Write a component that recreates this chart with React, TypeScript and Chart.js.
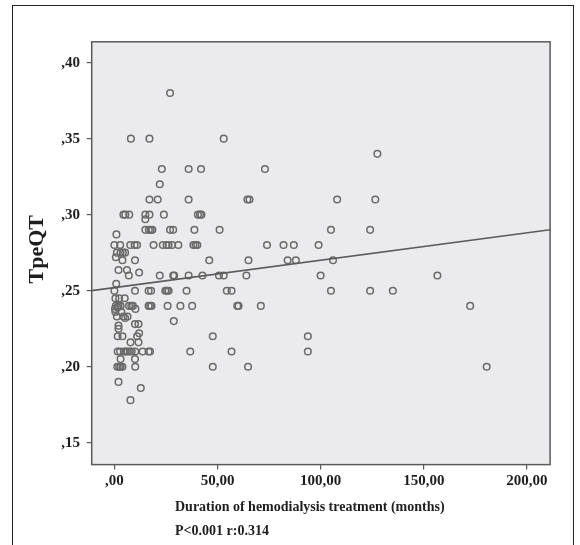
import React, { useEffect, useRef } from "react";
import { Chart, registerables } from "chart.js";

Chart.register(...registerables);

// Duration of hemodialysis treatment (months) and TpeQT
const MONTHS = [
  27,
  8, 17, 53,
  127.5,
  23, 36, 42, 73,
  22,
  17, 21, 36, 64.5, 65.5, 108, 126.5,
  4.4, 5.3, 7.2, 15, 17, 24, 40.5, 41.5, 42.2,
  15,
  15, 16.7, 17.6, 18.4, 27, 28.5, 38.8, 51, 105, 124,
  1,
  0, 2.8, 7.7, 9.8, 11, 19, 23.5, 25.3, 26.3, 28, 31, 38.3, 39.3, 40.2, 74, 82, 87, 99,
  1.2, 3.0, 4.1, 5.2,
  0.7,
  3.9, 10, 46, 65, 84, 88, 106,
  2, 6.1,
  12,
  7, 22, 28.5, 29, 36, 42.7, 50.7, 53, 64, 100, 156.6,
  0.9,
  0, 10, 16.6, 17.8, 24.7, 25.5, 26.3, 35, 54.5, 56.8, 105, 124, 135,
  0.5, 2.3, 5,
  0.7, 2, 3, 7.1, 8.2, 9, 16.6, 17.3, 18, 25.8, 32, 37.7, 59.6, 60.2, 71, 172.5,
  10.2, 0.3, 1.5,
  0.5, 3.4,
  1.2, 4.3, 6.4, 5.2,
  28.8,
  10, 11.7,
  2,
  2,
  12,
  1.6, 3.9, 11, 47.7, 93.8,
  7.8, 11.7,
  1.6, 2.8, 4.6, 5.5, 6.4, 7.5, 8.4, 10.1, 13.7, 16.6, 17.3, 36.8, 56.8, 93.8,
  3, 10,
  1.4, 2.3, 3, 3.9, 10.1, 47.7, 64.8, 180.5,
  2,
  12.8,
  7.8,
];

const TPEQT = [
  0.38,
  0.35, 0.35, 0.35,
  0.34,
  0.33, 0.33, 0.33, 0.33,
  0.32,
  0.31, 0.31, 0.31, 0.31, 0.31, 0.31, 0.31,
  0.30, 0.30, 0.30, 0.30, 0.30, 0.30, 0.30, 0.30, 0.30,
  0.297,
  0.29, 0.29, 0.29, 0.29, 0.29, 0.29, 0.29, 0.29, 0.29, 0.29,
  0.287,
  0.28, 0.28, 0.28, 0.28, 0.28, 0.28, 0.28, 0.28, 0.28, 0.28, 0.28, 0.28, 0.28, 0.28, 0.28, 0.28, 0.28, 0.28,
  0.275, 0.275, 0.275, 0.275,
  0.272,
  0.27, 0.27, 0.27, 0.27, 0.27, 0.27, 0.27,
  0.2636, 0.2636,
  0.262,
  0.26, 0.26, 0.26, 0.26, 0.26, 0.26, 0.26, 0.26, 0.26, 0.26, 0.26,
  0.2546,
  0.25, 0.25, 0.25, 0.25, 0.25, 0.25, 0.25, 0.25, 0.25, 0.25, 0.25, 0.25, 0.25,
  0.245, 0.245, 0.245,
  0.24, 0.24, 0.24, 0.24, 0.24, 0.24, 0.24, 0.24, 0.24, 0.24, 0.24, 0.24, 0.24, 0.24, 0.24, 0.24,
  0.238, 0.238, 0.239,
  0.236, 0.236,
  0.233, 0.233, 0.233, 0.232,
  0.23,
  0.228, 0.228,
  0.227,
  0.225,
  0.222,
  0.22, 0.22, 0.22, 0.22, 0.22,
  0.216, 0.216,
  0.21, 0.21, 0.21, 0.21, 0.21, 0.21, 0.21, 0.21, 0.21, 0.21, 0.21, 0.21, 0.21, 0.21,
  0.205, 0.205,
  0.20, 0.20, 0.20, 0.20, 0.20, 0.20, 0.20, 0.20,
  0.19,
  0.186,
  0.178,
];

const X_TICKS = [0, 50, 100, 150, 200];
const Y_TICKS = [0.15, 0.2, 0.25, 0.3, 0.35, 0.4];
const X_RANGE = [-11, 211.25];
const Y_RANGE = [0.1356, 0.4137];
const X_TITLE = "Duration of hemodialysis treatment (months)";
const STATS_TEXT = "P<0.001 r:0.314";
const Y_TITLE = "TpeQT";
const REG_INTERCEPT = 0.252;
const REG_SLOPE = 0.00018;

const SERIF = "'Liberation Serif', 'Times New Roman', serif";

const fmt = (v: number) => {
  const s = v.toFixed(2).replace(".", ",");
  return s.startsWith("0,") ? s.slice(1) : s;
};

const decorPlugin = {
  id: "decor",
  beforeDatasetsDraw(chart: any) {
    const { ctx, chartArea } = chart;
    const { left, top, right, bottom } = chartArea;
    ctx.save();
    ctx.fillStyle = "#ebebed";
    ctx.fillRect(left, top, right - left, bottom - top);
    ctx.restore();
  },
  afterDraw(chart: any) {
    const { ctx, chartArea } = chart;
    const { left, top, right, bottom } = chartArea;
    ctx.save();
    ctx.strokeStyle = "#5a5a5a";
    ctx.lineWidth = 1.5;
    ctx.strokeRect(left, top, right - left, bottom - top);

    ctx.fillStyle = "#1e1e1e";
    ctx.font = `bold 14px ${SERIF}`;
    ctx.textAlign = "left";
    ctx.textBaseline = "middle";
    ctx.fillText(X_TITLE, 175, 507);
    ctx.fillText(STATS_TEXT, 175, 531);

    ctx.translate(37.5, (top + bottom) / 2 - 4);
    ctx.rotate(-Math.PI / 2);
    ctx.textAlign = "center";
    ctx.font = `bold 22px ${SERIF}`;
    ctx.fillText(Y_TITLE, 0, 0);
    ctx.restore();
  },
};

export default function App() {
  const ref = useRef<HTMLCanvasElement | null>(null);

  useEffect(() => {
    if (!ref.current) return;
    const points = MONTHS.map((m, i) => ({ x: m, y: TPEQT[i] }));
    const regLine = X_RANGE.map((x) => ({ x, y: REG_INTERCEPT + REG_SLOPE * x }));

    const chart = new Chart(ref.current, {
      type: "scatter",
      data: {
        datasets: [
          {
            type: "line",
            data: regLine,
            borderColor: "#5c5c5c",
            borderWidth: 1.6,
            pointRadius: 0,
            fill: false,
          } as any,
          {
            data: points,
            pointRadius: 3.3,
            pointBorderWidth: 1.5,
            borderColor: "#6a6a6a",
            backgroundColor: "rgba(0,0,0,0)",
            pointBackgroundColor: "rgba(0,0,0,0)",
          },
        ],
      },
      options: {
        responsive: false,
        animation: false,
        layout: { padding: { left: 0, top: 41.8, right: 29.9, bottom: 0 } },
        plugins: {
          legend: { display: false },
          tooltip: { enabled: false },
        },
        scales: {
          x: {
            type: "linear",
            min: X_RANGE[0],
            max: X_RANGE[1],
            afterBuildTicks: (scale: any) => {
              scale.ticks = X_TICKS.map((v) => ({ value: v }));
            },
            afterFit: (scale: any) => {
              scale.height = 545 - 464.6;
            },
            ticks: {
              callback: (v: any) => fmt(Number(v)),
              font: { family: SERIF, size: 15, weight: "bold" },
              color: "#1e1e1e",
              padding: 3,
              maxRotation: 0,
            },
            grid: {
              drawOnChartArea: false,
              drawTicks: true,
              tickLength: 5,
              color: "#5a5a5a",
              lineWidth: 1.2,
            },
            border: { display: false },
          },
          y: {
            type: "linear",
            min: Y_RANGE[0],
            max: Y_RANGE[1],
            afterBuildTicks: (scale: any) => {
              scale.ticks = Y_TICKS.map((v) => ({ value: v }));
            },
            afterFit: (scale: any) => {
              scale.width = 91.7;
            },
            ticks: {
              callback: (v: any) => fmt(Number(v)),
              font: { family: SERIF, size: 15, weight: "bold" },
              color: "#1e1e1e",
              padding: 6.7,
            },
            grid: {
              drawOnChartArea: false,
              drawTicks: true,
              tickLength: 5,
              color: "#5a5a5a",
              lineWidth: 1.2,
            },
            border: { display: false },
          },
        },
      },
      plugins: [decorPlugin],
    } as any);

    return () => chart.destroy();
  }, []);

  return (
    <div
      style={{
        position: "absolute",
        left: 0,
        top: 0,
        width: 580,
        height: 545,
        overflow: "hidden",
        background: "#fff",
      }}
    >
      <div
        style={{
          position: "absolute",
          left: 12,
          top: 5,
          width: 560,
          height: 600,
          borderLeft: "1.5px solid #222",
          borderTop: "1.5px solid #222",
          borderRight: "1.5px solid #222",
        }}
      />
      <canvas ref={ref} width={580} height={545} style={{ position: "absolute", left: 0, top: 0 }} />
    </div>
  );
}
